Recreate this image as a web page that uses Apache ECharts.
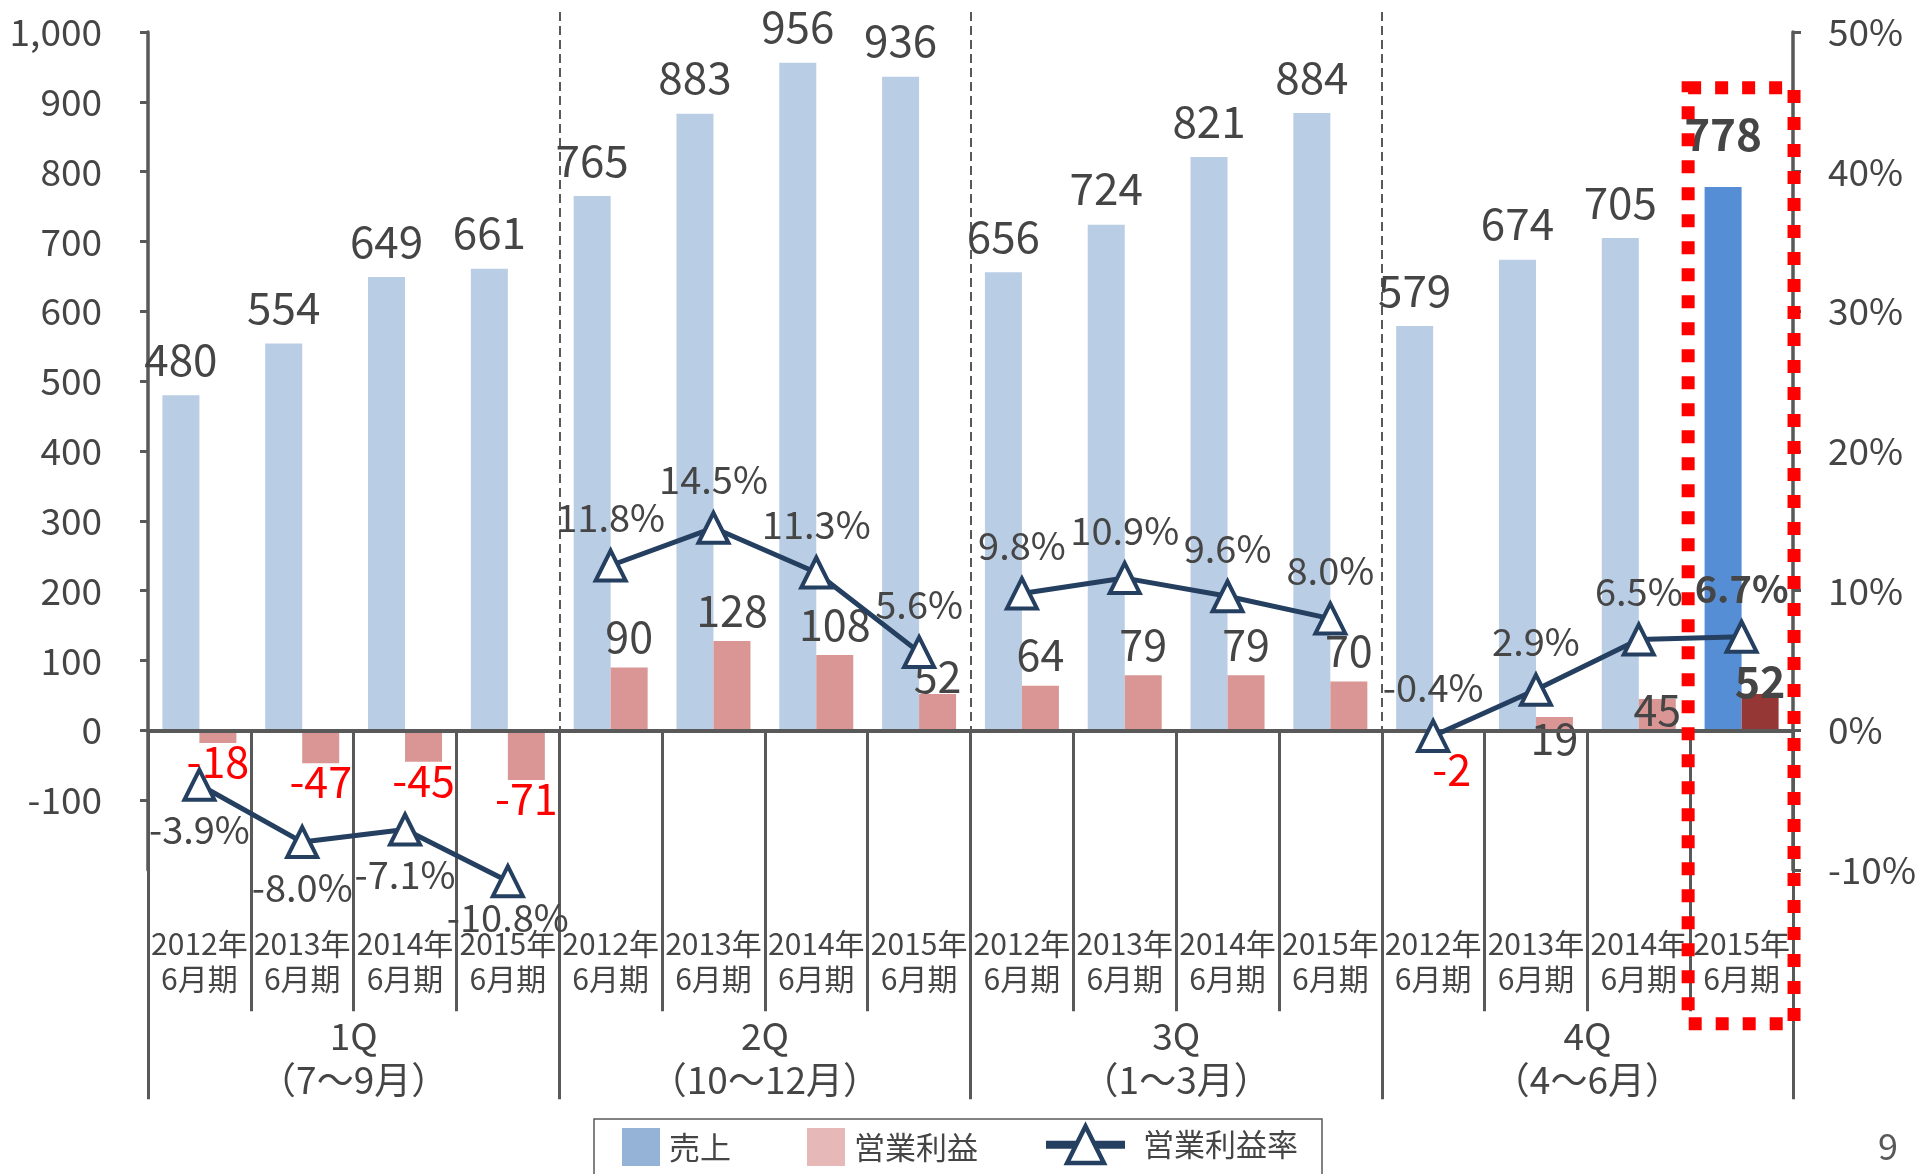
<!DOCTYPE html>
<html>
<head>
<meta charset="utf-8">
<script src="https://cdn.jsdelivr.net/npm/echarts@6/dist/echarts.min.js"></script>
<style>
  html, body { margin: 0; padding: 0; background: #ffffff; }
  #chart { width: 1915px; height: 1174px; }
</style>
</head>
<body>
<div id="chart"></div>
<script>
// Fiscal-year labels inside each quarter, and the quarter groups
const yearLabels = ['2012年\n6月期', '2013年\n6月期', '2014年\n6月期', '2015年\n6月期'];
const quarterLabels = ['1Q\n（7〜9月）', '2Q\n（10〜12月）', '3Q\n（1〜3月）', '4Q\n（4〜6月）'];

// 売上 (sales), 営業利益 (operating profit), 営業利益率 (operating margin, %)
const sales = [480, 554, 649, 661, 765, 883, 956, 936, 656, 724, 821, 884, 579, 674, 705, 778];
const operatingProfit = [-18, -47, -45, -71, 90, 128, 108, 52, 64, 79, 79, 70, -2, 19, 45, 52];
const operatingMargin = [-3.9, -8.0, -7.1, -10.8, 11.8, 14.5, 11.3, 5.6, 9.8, 10.9, 9.6, 8.0, -0.4, 2.9, 6.5, 6.7];

// axis scales
const leftAxis = { min: -200, max: 1000, interval: 100 };
const rightAxis = { min: -10, max: 50, interval: 10 };

const FONT = 'Noto Sans CJK JP';
const TEXT = '#454545';
const AXIS = '#595959';
const NAVY = '#243F60';
const CURRENT = 15; // latest period, emphasised
const PER_GROUP = yearLabels.length;

const categories = quarterLabels.flatMap(() => yearLabels);

// label nudges for crowded spots
const salesLabelDistance = { 15: 31 };
const profitLabelDistance = { 7: -4, 12: 16, 13: -43, 14: -32, 15: -9 };
const marginLabelDistance = { 3: 0 };

const salesData = sales.map((v, i) => {
  const item = { value: v, label: {} };
  if (salesLabelDistance[i] !== undefined) item.label.distance = salesLabelDistance[i];
  if (i === CURRENT) {
    item.itemStyle = { color: '#558ED5' };
    item.label.fontWeight = 'bold';
  }
  return item;
});

const profitData = operatingProfit.map((v, i) => {
  const item = {
    value: v,
    label: {
      color: v < 0 ? '#FF0000' : TEXT,
      distance: profitLabelDistance[i] !== undefined ? profitLabelDistance[i] : (v < 0 ? -3 : 9)
    }
  };
  if (i === CURRENT) {
    item.itemStyle = { color: '#953735' };
    item.label.fontWeight = 'bold';
  }
  return item;
});

const marginData = operatingMargin.map((v, i) => ({
  value: v,
  label: {
    position: i < PER_GROUP ? 'bottom' : 'top',
    distance: marginLabelDistance[i] !== undefined ? marginLabelDistance[i] : (i < PER_GROUP ? 9 : 12),
    fontWeight: i === CURRENT ? 'bold' : 'normal'
  }
}));

// the margin line is drawn per quarter, so quarters are not joined
const marginSeries = quarterLabels.map((q, g) => ({
  name: '営業利益率',
  type: 'line',
  xAxisIndex: 0, yAxisIndex: 1,
  symbol: 'triangle',
  symbolSize: 30,
  clip: false,
  connectNulls: false,
  lineStyle: { color: NAVY, width: 5 },
  itemStyle: { color: '#ffffff', borderColor: NAVY, borderWidth: 4 },
  label: {
    show: true, fontFamily: FONT, fontSize: 38, color: TEXT,
    formatter: p => p.value.toFixed(1) + '%'
  },
  data: marginData.map((d, i) => (Math.floor(i / PER_GROUP) === g ? d : '-')),
  z: 6
}));

const chart = echarts.init(document.getElementById('chart'), null, { renderer: 'canvas' });

chart.setOption({
  animation: false,
  backgroundColor: '#ffffff',
  textStyle: { fontFamily: FONT },
  grid: { left: 148, right: 122, top: 32, bottom: 304, containLabel: false, outerBoundsMode: 'none' },
  legend: [
    {
      left: 622, top: 1128, padding: 0,
      itemWidth: 38, itemHeight: 38, itemGap: 76,
      icon: 'rect',
      selectedMode: false,
      textStyle: { fontFamily: FONT, fontSize: 31, color: TEXT, padding: [0, 0, 0, 4] },
      data: [
        { name: '売上', itemStyle: { color: '#95B3D7' } },
        { name: '営業利益', itemStyle: { color: '#E6B9B8' } }
      ]
    },
    {
      left: 1042, top: 1124, padding: 0,
      itemWidth: 79, itemHeight: 46,
      selectedMode: false,
      lineStyle: { color: NAVY, width: 8 },
      itemStyle: { color: '#ffffff', borderColor: NAVY, borderWidth: 4.5 },
      textStyle: { fontFamily: FONT, fontSize: 31, color: TEXT, padding: [0, 0, 0, 13] },
      data: ['営業利益率']
    }
  ],
  xAxis: [
    {
      // fiscal-year level, sits on the zero line
      type: 'category',
      position: 'bottom',
      data: categories,
      axisLine: { show: true, onZero: true, onZeroAxisIndex: 0, lineStyle: { color: AXIS, width: 4 } },
      axisTick: { show: true, interval: 0, length: 281, lineStyle: { color: AXIS, width: 3 } },
      axisLabel: {
        interval: 0, margin: 56,
        fontFamily: FONT, fontSize: 30, lineHeight: 35, color: TEXT, align: 'center'
      },
      splitLine: { show: false },
      z: 3
    },
    {
      // dashed quarter dividers above the zero line
      type: 'value',
      position: 'top',
      offset: 20,
      min: 0, max: 16,
      axisLine: { show: false, onZero: false },
      axisTick: {
        show: true, inside: true, length: 718,
        customValues: [4, 8, 12],
        lineStyle: { color: AXIS, width: 2, type: [9, 5] }
      },
      axisLabel: { show: false },
      splitLine: { show: false }
    },
    {
      // quarter level labels and long dividers
      type: 'category',
      position: 'bottom',
      data: quarterLabels,
      axisLine: { show: false, onZero: true, onZeroAxisIndex: 0 },
      axisTick: { show: true, interval: 0, length: 369, lineStyle: { color: AXIS, width: 3 } },
      axisLabel: {
        interval: 0, margin: 144,
        fontFamily: FONT, fontSize: 37, lineHeight: 44, color: TEXT, align: 'center'
      },
      splitLine: { show: false }
    }
  ],
  yAxis: [
    {
      type: 'value',
      position: 'left',
      min: leftAxis.min, max: leftAxis.max, interval: leftAxis.interval,
      axisLine: { show: true, onZero: false, lineStyle: { color: AXIS, width: 3.5 } },
      axisTick: { show: true, length: 8, lineStyle: { color: AXIS, width: 3 } },
      axisLabel: {
        showMinLabel: false,
        margin: 46,
        fontFamily: FONT, fontSize: 37, color: TEXT,
        formatter: v => v.toLocaleString('en-US')
      },
      splitLine: { show: false }
    },
    {
      type: 'value',
      position: 'right',
      min: rightAxis.min, max: rightAxis.max, interval: rightAxis.interval,
      axisLine: { show: true, onZero: false, lineStyle: { color: AXIS, width: 3.5 } },
      axisTick: { show: true, length: 8, lineStyle: { color: AXIS, width: 3 } },
      axisLabel: {
        margin: 35, align: 'left',
        fontFamily: FONT, fontSize: 37, color: TEXT,
        formatter: '{value}%'
      },
      splitLine: { show: false }
    }
  ],
  series: [
    {
      name: '売上',
      type: 'bar',
      xAxisIndex: 0, yAxisIndex: 0,
      barWidth: 37, barGap: '0%',
      itemStyle: { color: '#B9CDE5' },
      label: { show: true, position: 'top', distance: 14, fontFamily: FONT, fontSize: 44, color: TEXT },
      data: salesData,
      z: 2
    },
    {
      name: '営業利益',
      type: 'bar',
      xAxisIndex: 0, yAxisIndex: 0,
      barWidth: 37, barGap: '0%',
      itemStyle: { color: '#D99694' },
      label: { show: true, position: 'outside', fontFamily: FONT, fontSize: 43, color: TEXT },
      data: profitData,
      z: 2
    }
  ].concat(marginSeries)
});

// frame around the latest period, legend border and page number
const band = chart.convertToPixel({ xAxisIndex: 0 }, 15) - chart.convertToPixel({ xAxisIndex: 0 }, 14);
const cx = chart.convertToPixel({ xAxisIndex: 0 }, CURRENT);
const frameTop = chart.convertToPixel({ yAxisIndex: 0 }, 920);
const frameBottom = chart.convertToPixel({ yAxisIndex: 0 }, -420);
const frameLeft = cx - band * 0.52;
const frameRight = cx + band * 0.51;

chart.setOption({
  graphic: [
    {
      type: 'rect',
      shape: { x: 594, y: 1119, width: 728, height: 90 },
      style: { fill: 'none', stroke: AXIS, lineWidth: 1.5 },
      z: 1
    },
    {
      type: 'rect',
      shape: { x: frameLeft, y: frameTop, width: frameRight - frameLeft, height: frameBottom - frameTop },
      style: { fill: 'none', stroke: '#FF0000', lineWidth: 13, lineDash: [13, 14] },
      z: 100
    },
    {
      type: 'text',
      left: 1878, top: 1128,
      style: { text: '9', fontFamily: FONT, fontSize: 36, fill: AXIS }
    }
  ]
});
</script>
</body>
</html>
